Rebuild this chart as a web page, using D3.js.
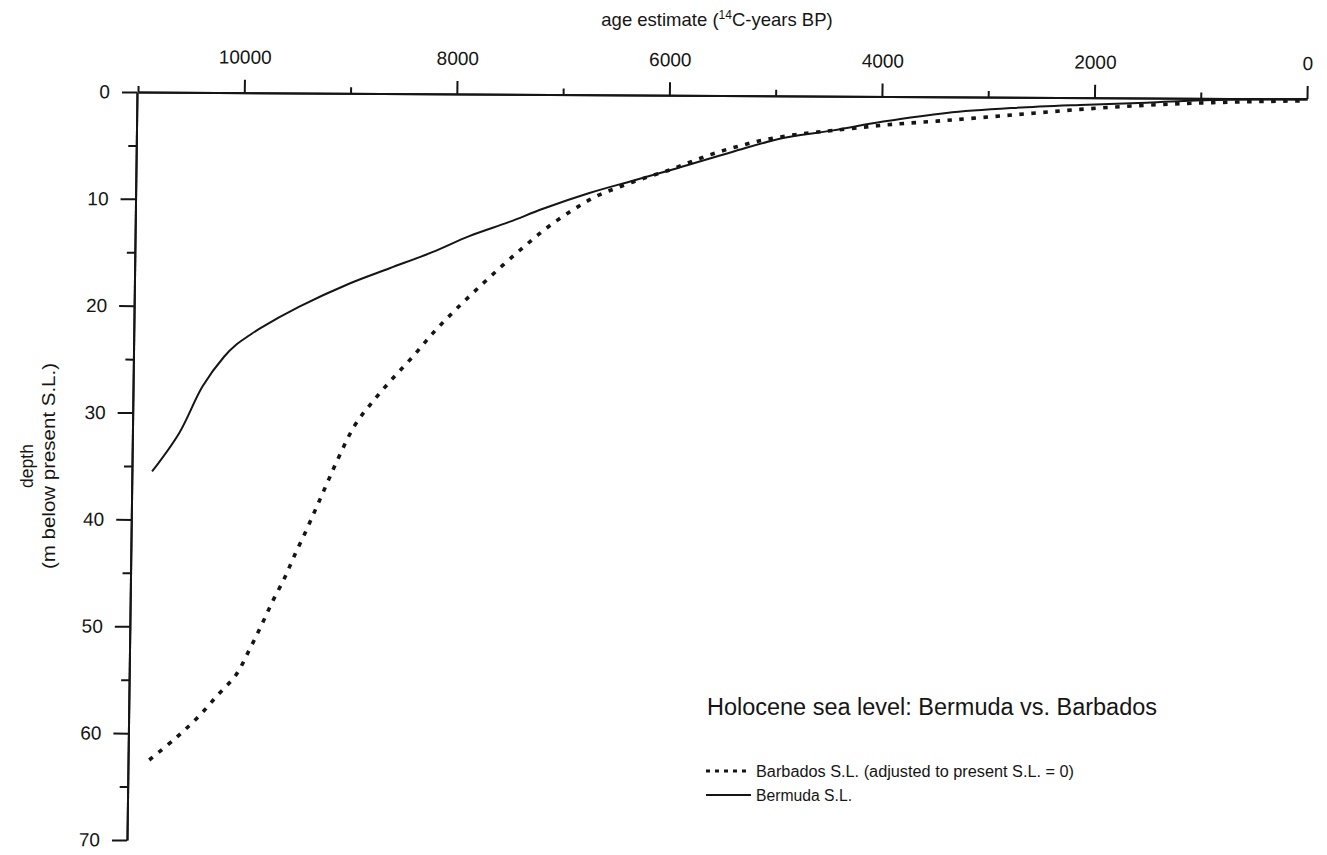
<!DOCTYPE html>
<html>
<head>
<meta charset="utf-8">
<script src="https://cdn.jsdelivr.net/npm/d3@7"></script>
<style>
  html, body { margin: 0; padding: 0; background: #fff; }
  svg { display: block; }
  text { fill: #151515; }
</style>
</head>
<body>
<script>
// Holocene sea level curves: Bermuda vs. Barbados (depth below present S.L.)

// Barbados S.L. (adjusted to present S.L. = 0)
const barbadosAge = [10810, 10560, 10360, 10175, 10005, 9880, 9770, 9670, 9560, 9470,
  9365, 9270, 9180, 9085, 8920, 8765, 8580, 8380, 8195, 7995, 7780, 7545, 7330, 7125,
  6895, 6675, 6455, 6205, 5990, 5770, 5550, 5330, 5115, 4895, 4675, 4455, 4140, 3890,
  3390, 2765, 2135, 1510, 885, 0];
const barbadosDepth = [62.5, 60.4, 58.5, 56.4, 54.5, 52.1, 49.8, 47.6, 45.4, 43.3,
  41.0, 38.8, 36.7, 34.5, 31.1, 29.0, 26.8, 24.6, 22.4, 20.3, 18.2, 16.0, 14.1, 12.4,
  10.8, 9.5, 8.6, 7.7, 7.0, 6.15, 5.35, 4.7, 4.15, 3.75, 3.45, 3.2, 2.85, 2.6,
  2.2, 1.65, 1.1, 0.67, 0.39, 0.16];

// Bermuda S.L.
const bermudaAge = [10820, 10570, 10355, 10155, 10045, 9920, 9830, 9455, 8985, 8610,
  8205, 7865, 7490, 7175, 6740, 6325, 5925, 5395, 4925, 4455, 3985, 3390, 2765, 2135,
  1510, 885, 0];
const bermudaDepth = [35.5, 31.9, 27.5, 24.7, 23.6, 22.7, 22.1, 20.0, 17.8, 16.35,
  14.8, 13.3, 11.95, 10.7, 9.2, 8.0, 6.85, 5.25, 3.95, 3.2, 2.35, 1.5, 1.0, 0.68,
  0.43, 0.14, 0];

// Axis ticks
const ageMajorTicks = [10000, 8000, 6000, 4000, 2000, 0];
const ageMinorTicks = [11000, 9000, 7000, 5000, 3000, 1000];
const depthMajorTicks = [0, 10, 20, 30, 40, 50, 60, 70];
const depthMinorTicks = [5, 15, 25, 35, 45, 55, 65];

// Text
const xTitle = "age estimate (";
const xTitleSup = "14";
const xTitleEnd = "C-years BP)";
const yTitle1 = "depth";
const yTitle2 = "(m below present S.L.)";
const chartTitle = "Holocene sea level: Bermuda vs. Barbados";
const legendLabels = ["Barbados S.L. (adjusted to present S.L. = 0)", "Bermuda S.L."];

const FONT = "'Liberation Sans', Arial, Helvetica, sans-serif";
const INK = "#151515";

const svg = d3.select("body").append("svg")
  .attr("width", 1327).attr("height", 855);

const x = d3.scaleLinear().domain([11000, 0]).range([138, 1307]);
const y = d3.scaleLinear().domain([0, 70]).range([92, 840]);

// plot frame, slightly sheared like the printed figure
const plot = svg.append("g")
  .attr("transform", "translate(137,92) matrix(1,0.006,-0.0134,1,0,0) translate(-137,-92)");

function styleAxis(g, size) {
  g.selectAll("path.domain").attr("stroke", INK).attr("stroke-width", 2);
  g.selectAll(".tick line").attr("stroke", INK).attr("stroke-width", 2);
  g.selectAll(".tick text").attr("font-family", FONT).attr("font-size", size).attr("fill", INK);
}

// top age axis
plot.append("g")
  .attr("transform", `translate(0,${y(0)})`)
  .call(d3.axisTop(x).tickValues(ageMinorTicks).tickSize(6).tickSizeOuter(0).tickFormat(""))
  .call(g => styleAxis(g, 19));
plot.append("g")
  .attr("transform", `translate(0,${y(0)})`)
  .call(d3.axisTop(x).tickValues(ageMajorTicks).tickSize(13).tickSizeOuter(0).tickPadding(16)
    .tickFormat(d3.format("d")))
  .call(g => styleAxis(g, 19));

// left depth axis
const axisX = 137;
plot.append("g")
  .attr("transform", `translate(${axisX},0)`)
  .call(d3.axisLeft(y).tickValues(depthMinorTicks).tickSize(8).tickSizeOuter(0).tickFormat(""))
  .call(g => styleAxis(g, 19));
plot.append("g")
  .attr("transform", `translate(${axisX},0)`)
  .call(d3.axisLeft(y).tickValues(depthMajorTicks).tickSize(15).tickSizeOuter(0).tickPadding(12)
    .tickFormat(d3.format("d")))
  .call(g => styleAxis(g, 19));

// curves
const line = d3.line()
  .x(d => x(d[0]))
  .y(d => y(d[1]))
  .curve(d3.curveCatmullRom.alpha(0.5));

const barbados = barbadosAge.map((a, i) => [a, barbadosDepth[i]]);
const bermuda = bermudaAge.map((a, i) => [a, bermudaDepth[i]]);

plot.append("path")
  .datum(barbados)
  .attr("d", line)
  .attr("fill", "none")
  .attr("stroke", INK)
  .attr("stroke-width", 3.6)
  .attr("stroke-dasharray", "4.5 7.5");

plot.append("path")
  .datum(bermuda)
  .attr("d", line)
  .attr("fill", "none")
  .attr("stroke", INK)
  .attr("stroke-width", 2);

// axis titles
const xt = svg.append("text")
  .attr("x", 717).attr("y", 26)
  .attr("text-anchor", "middle")
  .attr("font-family", FONT).attr("font-size", 18.5);
xt.append("tspan").text(xTitle);
xt.append("tspan").attr("dy", -7).attr("font-size", 12).text(xTitleSup);
xt.append("tspan").attr("dy", 7).text(xTitleEnd);

svg.append("text")
  .attr("transform", "translate(33,466) rotate(-90)")
  .attr("text-anchor", "middle")
  .attr("font-family", FONT).attr("font-size", 17.5)
  .text(yTitle1);
svg.append("text")
  .attr("transform", "translate(55,466) rotate(-90)")
  .attr("text-anchor", "middle")
  .attr("font-family", FONT).attr("font-size", 18)
  .attr("textLength", 206).attr("lengthAdjust", "spacingAndGlyphs")
  .text(yTitle2);

// chart title
svg.append("text")
  .attr("x", 707).attr("y", 715)
  .attr("font-family", FONT).attr("font-size", 23)
  .attr("textLength", 450).attr("lengthAdjust", "spacingAndGlyphs")
  .text(chartTitle);

// legend
const legend = svg.append("g");
const legendY = [771, 795];
legend.append("line")
  .attr("x1", 706).attr("x2", 751).attr("y1", legendY[0]).attr("y2", legendY[0])
  .attr("stroke", INK).attr("stroke-width", 3).attr("stroke-dasharray", "4 5");
legend.append("line")
  .attr("x1", 706).attr("x2", 751).attr("y1", legendY[1]).attr("y2", legendY[1])
  .attr("stroke", INK).attr("stroke-width", 1.8);
legend.selectAll("text.lbl")
  .data(legendLabels)
  .join("text")
  .attr("class", "lbl")
  .attr("x", 756)
  .attr("y", (d, i) => legendY[i] + 5.5)
  .attr("font-family", FONT).attr("font-size", 16)
  .attr("textLength", (d, i) => i === 0 ? 318 : 96)
  .attr("lengthAdjust", "spacingAndGlyphs")
  .text(d => d);
</script>
</body>
</html>
